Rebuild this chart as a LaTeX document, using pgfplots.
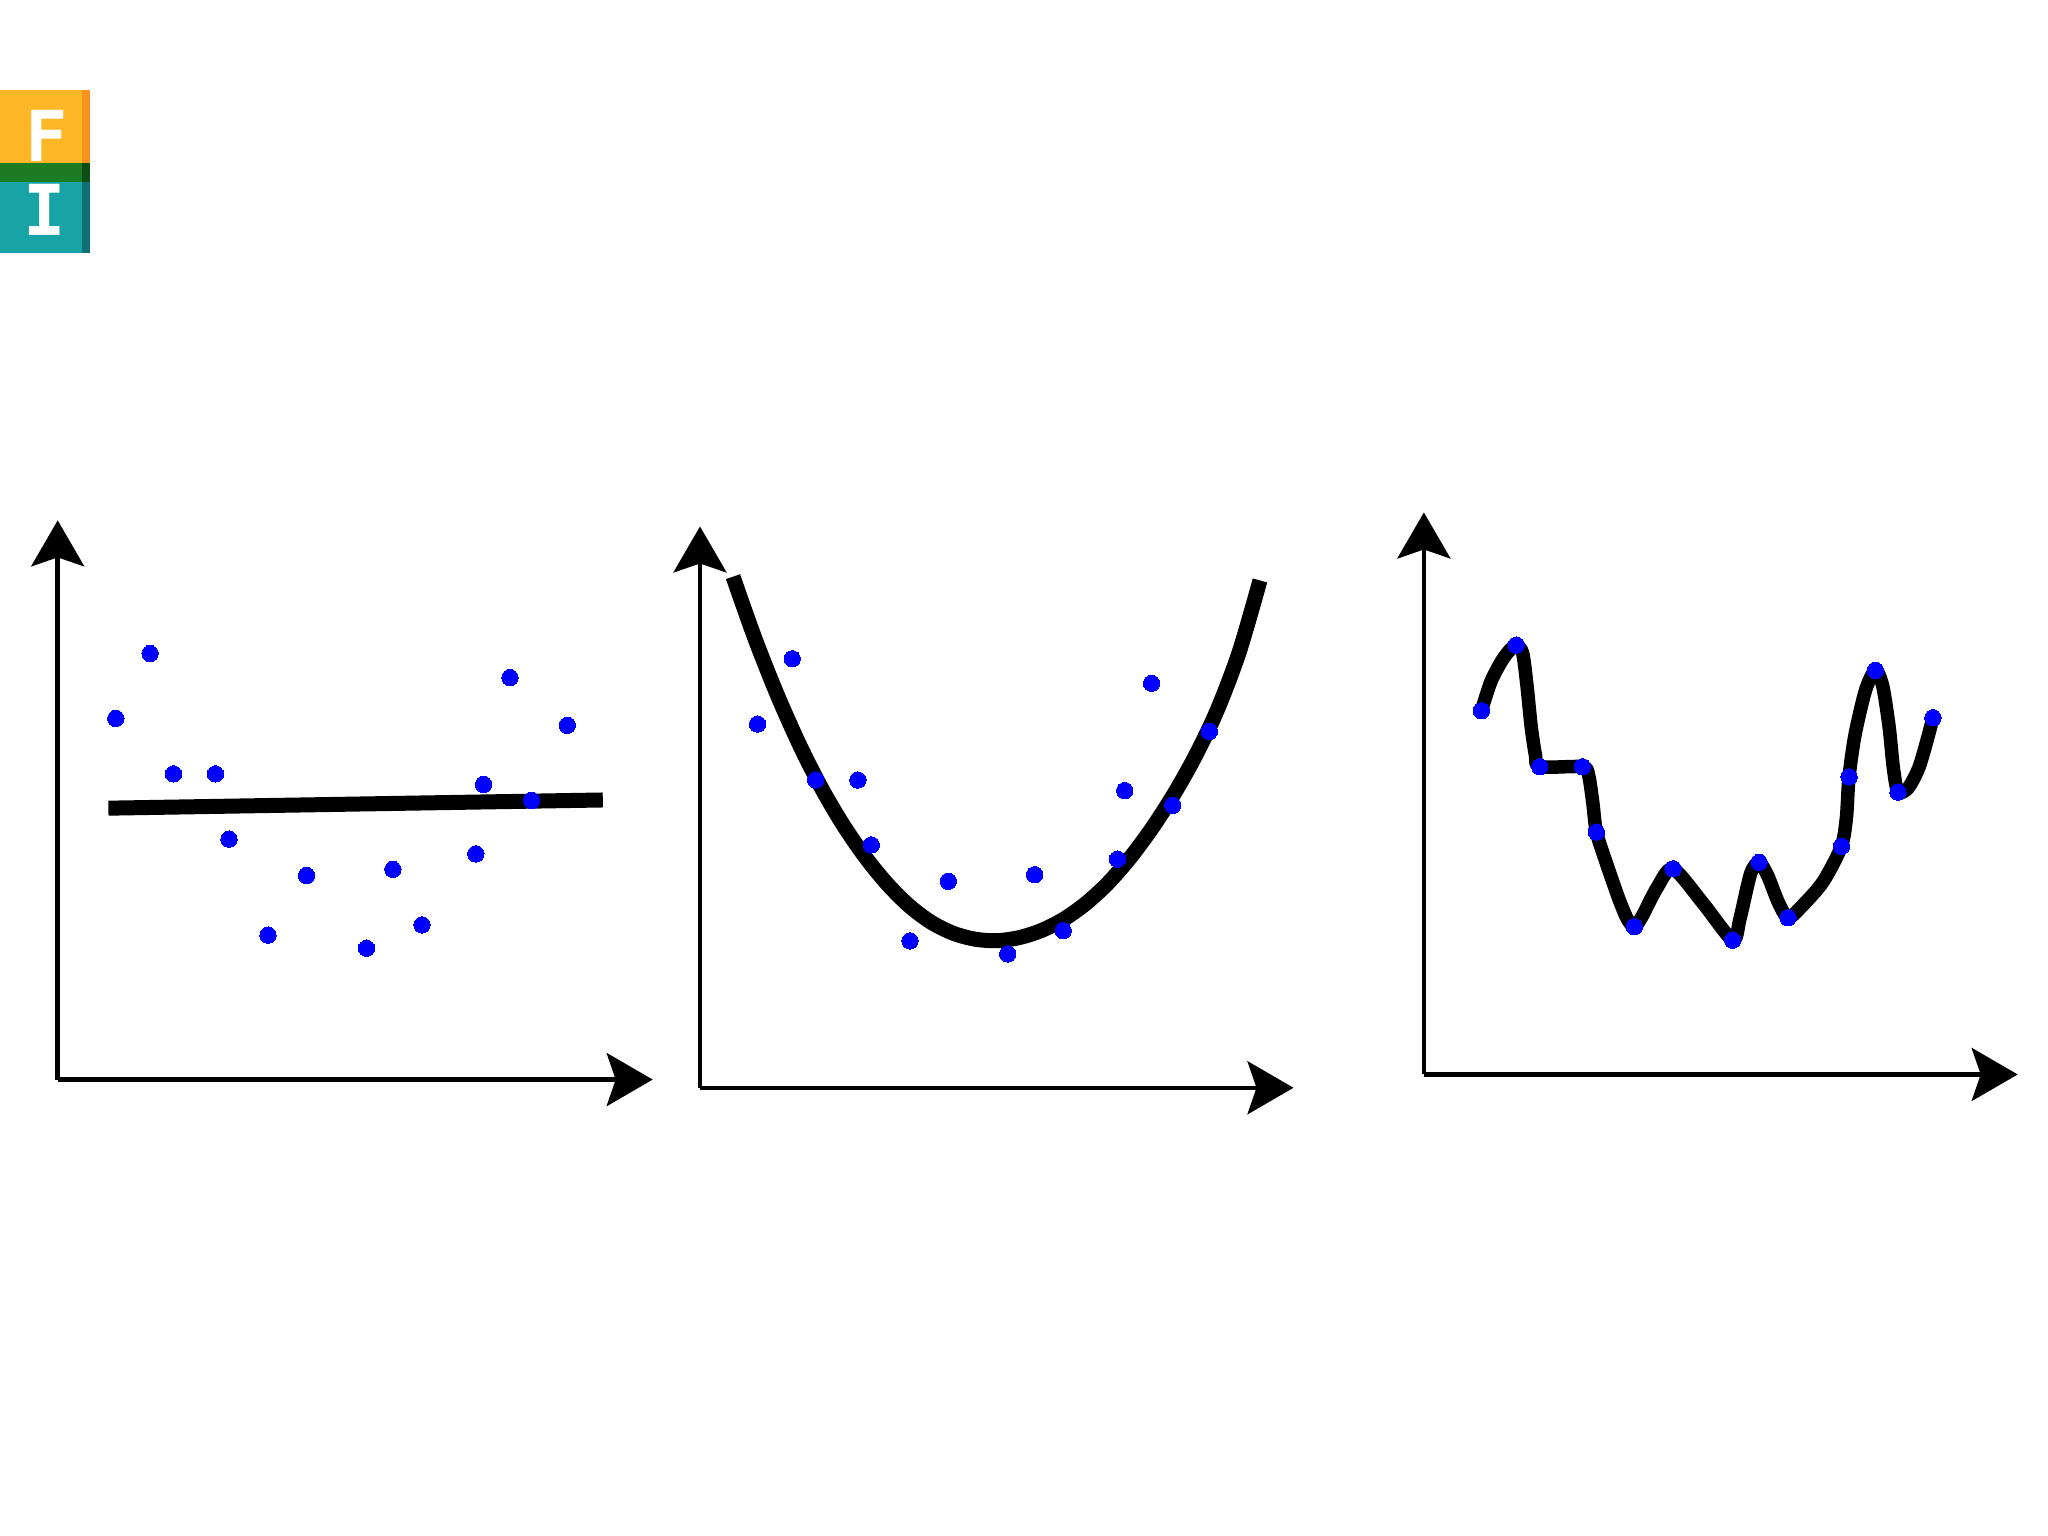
\documentclass[border=0pt]{standalone}
\usepackage{pgfplots}
\pgfplotsset{compat=1.18}
\usepackage{fontspec}
\newfontfamily\logofont{DejaVu Sans Mono}
\usetikzlibrary{arrows.meta}

\definecolor{logoorange}{RGB}{253,183,38}
\definecolor{logoorangedk}{RGB}{247,146,28}
\definecolor{logogreen}{RGB}{28,124,34}
\definecolor{logogreendk}{RGB}{12,78,22}
\definecolor{logoteal}{RGB}{24,164,166}
\definecolor{logotealdk}{RGB}{14,112,118}

% all panels share one scale: 1 unit = 1 px of the 2048x1536 frame
\pgfplotsset{
  panel/.style={
    x=0.1mm, y=0.1mm,
    anchor=south west,
    axis lines=left,
    every outer x axis line/.append style={-{Stealth[length=4.6mm,width=5.3mm,inset=0.9mm]}},
    every outer y axis line/.append style={-{Stealth[length=4.6mm,width=5.3mm,inset=0.9mm]}},
    axis line style={line width=0.45mm, black},
    ticks=none,
    enlargelimits=false,
    clip=false,
  },
  dots/.style={only marks, color=blue, mark=*, mark size=0.82mm,
    mark options={fill=blue, draw=blue, line width=0pt}},
}

\begin{document}
\begin{tikzpicture}
\path[use as bounding box, fill=white] (0,0) rectangle (204.8mm,153.6mm);

% logo
\begin{scope}[x=0.1mm, y=0.1mm]
  \fill[logoorange]   (0,1373) rectangle (82,1446);
  \fill[logoorangedk] (82,1373) rectangle (90,1446);
  \fill[logogreen]    (0,1354) rectangle (82,1373);
  \fill[logogreendk]  (82,1354) rectangle (90,1373);
  \fill[logoteal]     (0,1283) rectangle (82,1354);
  \fill[logotealdk]   (82,1283) rectangle (90,1354);
  \node[white, font=\logofont\bfseries\fontsize{20}{20}\selectfont, inner sep=0pt] at (47,1400) {F};
  \node[white, font=\logofont\bfseries\fontsize{20}{20}\selectfont, inner sep=0pt] at (45,1326) {I};
\end{scope}

% underfitting
\begin{axis}[panel, at={(5.77mm,45.64mm)},
  xmin=57.7, xmax=652.7, ymin=456.4, ymax=1015.6]
\addplot[black, line width=1.5mm, mark=none] coordinates {(108.4,727.8) (602.8,736.0)};
\addplot[dots] coordinates {
  (115.8,817.6) (150.1,882.5) (173.5,762.1) (215.5,762.1) (229.0,696.8)
  (268.0,600.9) (306.6,660.5) (366.5,587.8) (392.9,666.6) (422.0,611.1)
  (475.8,682.1) (483.6,751.5) (510.0,858.4) (531.7,735.6) (567.3,810.7)};
\end{axis}

% good fit
\begin{axis}[panel, at={(70.0mm,44.82mm)},
  xmin=700, xmax=1293.5, ymin=448.2, ymax=1009.5]
\addplot[black, line width=1.5mm, mark=none, smooth] coordinates {
  (733,959.3) (755,897.3) (777,841.8) (799,792.3) (821,748.8)
  (843,711.3) (865,679.3) (887,652.3) (909,630.3) (931,613.8)
  (953,602.8) (975,596.8) (997,595.3) (1019,598.3) (1041,605.3)
  (1063,616.3) (1085,631.8) (1107,651.8) (1129,676.8) (1151,706.3)
  (1173,740.3) (1195,779.3) (1217,825.3) (1239,883.3) (1260,955.5)};
\addplot[dots] coordinates {
  (757.6,811.9) (792.2,877.2) (815.7,756.0) (857.8,756.0) (871.3,691.1)
  (910.0,595.1) (948.3,654.7) (1007.7,582.1) (1034.6,661.3) (1063.2,605.3)
  (1117.5,676.8) (1124.7,745.4) (1151.6,852.7) (1172.7,730.7) (1209.3,804.5)};
\end{axis}

% overfitting
\begin{axis}[panel, at={(142.39mm,46.15mm)},
  xmin=1423.9, xmax=2017.7, ymin=461.5, ymax=1023.5]
\addplot[black, line width=1.35mm, mark=none, smooth, tension=0.45,
  line join=round, line cap=round] coordinates {
  (1481.4,825.2) (1490.8,854.1) (1501.4,874.6) (1509.9,886.0) (1516.3,890.9)
  (1522.7,882.7) (1527.0,850.1) (1531.2,809.2) (1535.5,780.7) (1539.8,769.2)
  (1582.4,769.2) (1588.7,760.3) (1593.0,731.7) (1596.4,703.9) (1605.8,674.5)
  (1618.6,637.8) (1627.1,617.4) (1634.3,609.2) (1642.0,619.4) (1656.9,648.0)
  (1673.1,667.2) (1703.8,631.7) (1732.7,595.8) (1740.0,617.4) (1750.6,662.3)
  (1759.1,673.7) (1767.7,660.3) (1778.3,633.7) (1788.1,618.2) (1801.7,629.6)
  (1823.0,654.1) (1841.4,689.6) (1846.5,719.4) (1849.0,759.0) (1855.0,801.1)
  (1865.6,846.0) (1875.4,865.6) (1882.7,850.1) (1889.1,809.2) (1893.3,768.4)
  (1898.0,743.9) (1908.2,748.0) (1918.9,768.4) (1927.4,797.0) (1932.9,818.2)};
\addplot[dots] coordinates {
  (1481.4,825.2) (1516.3,890.9) (1539.8,769.2) (1582.4,769.2) (1596.4,703.9)
  (1634.3,609.2) (1673.1,667.2) (1732.7,595.8) (1759.1,673.7) (1788.1,618.2)
  (1841.4,689.6) (1849.0,759.0) (1875.4,865.6) (1898.0,743.9) (1932.9,818.2)};
\end{axis}
\end{tikzpicture}
\end{document}
